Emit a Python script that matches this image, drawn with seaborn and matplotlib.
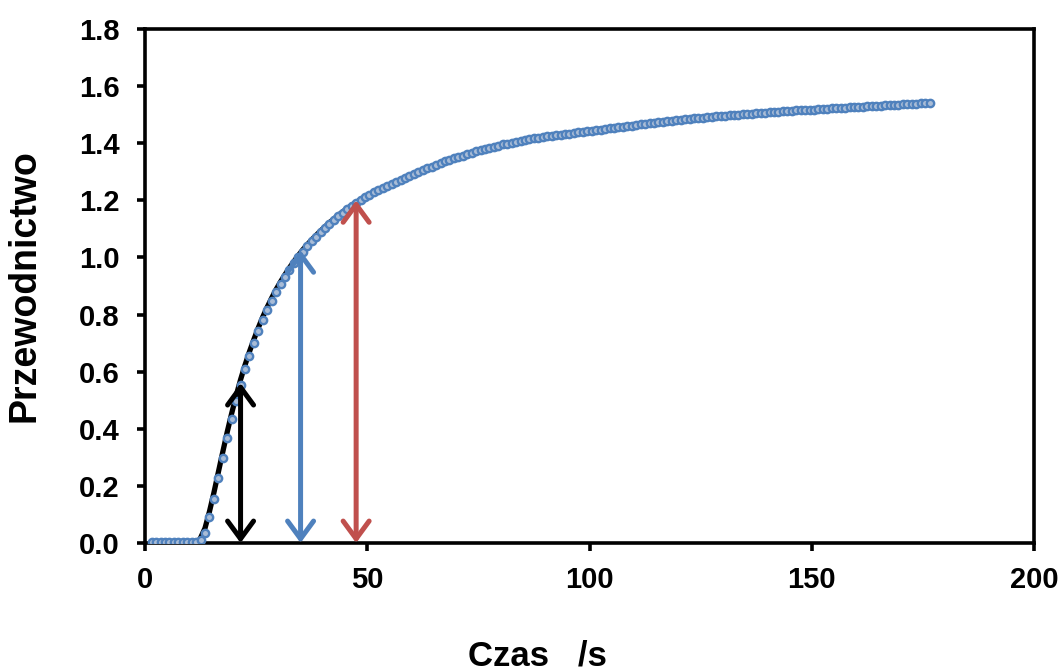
import numpy as np
import pandas as pd
import matplotlib as mpl
mpl.use('Agg')
import matplotlib.pyplot as plt
import seaborn as sns

sns.set_style('ticks')
plt.rcParams['font.family'] = ['Liberation Sans', 'DejaVu Sans']
plt.rcParams['font.weight'] = 'bold'

# measured points (time in s, one reading each second)
czas = np.arange(1.5, 177.0, 1.0)
przewodnictwo = [
    0.004, 0.003, 0.004, 0.003, 0.003, 0.004, 0.003, 0.003, 0.004, 0.003, 0.004,
    0.010, 0.036, 0.090, 0.155, 0.226, 0.298, 0.368, 0.435, 0.497, 0.555,
    0.608, 0.656, 0.700, 0.742, 0.780, 0.815, 0.848, 0.878, 0.906, 0.932,
    0.956, 0.979, 1.000, 1.020, 1.039, 1.056, 1.073, 1.088, 1.104, 1.118,
    1.131, 1.144, 1.156, 1.168, 1.179, 1.190, 1.200, 1.210, 1.219, 1.228,
    1.237, 1.244, 1.251, 1.258, 1.265, 1.272, 1.279, 1.286, 1.293, 1.299,
    1.306, 1.312, 1.318, 1.324, 1.330, 1.336, 1.341, 1.347, 1.352, 1.357,
    1.362, 1.367, 1.372, 1.376, 1.380, 1.384, 1.388, 1.392, 1.396, 1.399,
    1.402, 1.405, 1.408, 1.411, 1.414, 1.417, 1.420, 1.422, 1.424, 1.426,
    1.428, 1.430, 1.432, 1.434, 1.436, 1.438, 1.440, 1.442, 1.444, 1.446,
    1.448, 1.450, 1.452, 1.454, 1.456, 1.458, 1.460, 1.462, 1.464, 1.466,
    1.468, 1.470, 1.472, 1.473, 1.475, 1.477, 1.479, 1.481, 1.482, 1.484,
    1.486, 1.488, 1.489, 1.490, 1.491, 1.493, 1.494, 1.495, 1.496, 1.498,
    1.499, 1.500, 1.501, 1.503, 1.504, 1.505, 1.506, 1.507, 1.509, 1.510,
    1.511, 1.512, 1.513, 1.514, 1.515, 1.515, 1.516, 1.517, 1.518, 1.519,
    1.520, 1.521, 1.522, 1.523, 1.524, 1.525, 1.526, 1.527, 1.528, 1.528,
    1.529, 1.530, 1.531, 1.532, 1.533, 1.534, 1.535, 1.535, 1.536, 1.537,
    1.538, 1.539, 1.540, 1.540, 1.541,
]

# fitted curve (black)
czas_fit = [11.8, 12.5, 13.5, 14.5, 15.5, 16.5, 17.5, 18.5, 19.5, 20.5, 21.5,
            22.5, 23.5, 24.5, 25.5, 26.5, 27.5, 28.5, 29.5, 30.5, 31.5, 32.5,
            33.5, 34.5, 35.5, 37.5, 39.5, 41.5, 43.5, 45.5, 47.5, 50.5, 55.5,
            60.5, 70.5, 80.5, 100.5, 120.5, 140.5, 160.5, 176.5]
przew_fit = [0.0, 0.018, 0.052, 0.110, 0.176, 0.248, 0.319, 0.389, 0.454, 0.515,
             0.572, 0.623, 0.670, 0.713, 0.754, 0.792, 0.826, 0.858, 0.888,
             0.915, 0.940, 0.964, 0.986, 1.007, 1.027, 1.062, 1.093, 1.122,
             1.148, 1.172, 1.193, 1.221, 1.259, 1.292, 1.350, 1.397, 1.445,
             1.483, 1.509, 1.528, 1.541]

# double arrows: x position, top value, colour
strzalki_x = [21.5, 35.0, 47.5]
strzalki_y = [0.56, 1.025, 1.20]
strzalki_kolor = ['black', '#4F81BD', '#C0504D']

dane = pd.DataFrame({'t': czas, 'G': przewodnictwo})
fit = pd.DataFrame({'t': czas_fit, 'G': przew_fit})

fig = plt.figure(figsize=(10.61, 6.72), dpi=100)
ax = fig.add_axes([145 / 1061, 1 - 543 / 672, 889 / 1061, 514 / 672])

sns.lineplot(data=fit, x='t', y='G', color='black', lw=3.8, ax=ax, zorder=2)
sns.scatterplot(data=dane, x='t', y='G', s=28, marker='o', color='#A9BCD6',
                edgecolor='#4F81BD', linewidth=1.7, ax=ax, zorder=3)

for x, y, c in zip(strzalki_x, strzalki_y, strzalki_kolor):
    ax.annotate('', xy=(x, y), xytext=(x, 0.0),
                arrowprops=dict(arrowstyle='<->, head_length=0.75, head_width=0.55',
                                color=c, lw=3.6, mutation_scale=17,
                                shrinkA=0, shrinkB=0),
                zorder=4)

ax.set_xlim(0, 200)
ax.set_ylim(0, 1.8)
ax.set_xticks([0, 50, 100, 150, 200])
ax.set_yticks(np.arange(0, 1.81, 0.2))
ax.set_yticklabels([f'{v:.1f}' for v in np.arange(0, 1.81, 0.2)])

for s in ax.spines.values():
    s.set_linewidth(2.6)
    s.set_color('black')
ax.tick_params(direction='out', length=5.5, width=2.6, labelsize=21,
               colors='black')
ax.tick_params(axis='x', pad=11)
ax.tick_params(axis='y', pad=13)
for lab in ax.get_xticklabels() + ax.get_yticklabels():
    lab.set_fontweight('bold')

ax.set_xlabel('Czas   /s', fontsize=25, fontweight='bold', va='center', color='black')
ax.set_ylabel('Przewodnictwo', fontsize=27, fontweight='bold', va='center', color='black')
ax.xaxis.set_label_coords((537 - 145) / 889, -(656 - 543) / 514)
ax.yaxis.set_label_coords((25 - 145) / 889, 0.5)

fig.savefig('out.png', dpi=100)
